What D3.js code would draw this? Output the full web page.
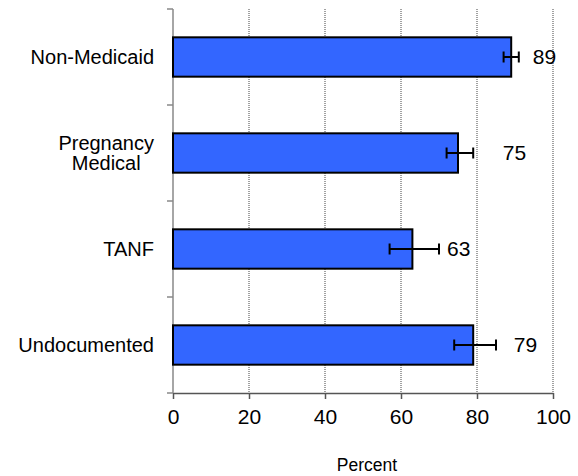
<!DOCTYPE html>
<html>
<head>
<meta charset="utf-8">
<script src="https://cdn.jsdelivr.net/npm/d3@7"></script>
<style>
  body { margin: 0; background: #fff; }
  svg { display: block; font-family: "Liberation Sans", Arial, sans-serif; }
</style>
</head>
<body>
<svg id="chart" width="578" height="476"></svg>
<script>
const CATEGORIES = [["Non-Medicaid"], ["Pregnancy", "Medical"], ["TANF"], ["Undocumented"]];
const VALUES = [89, 75, 63, 79];
const ERR_LOW = [87, 72, 57, 74];
const ERR_HIGH = [91, 79, 70, 85];
const LABEL_AT = [94.7, 86.8, 72.1, 89.7]; // where the value labels start, in percent
const X_TICKS = [0, 20, 40, 60, 80, 100];

const BAR_COLOR = "#3366ff";

const svg = d3.select("#chart");

const x = d3.scaleLinear().domain([0, 100]).range([173, 553]);
const y = d3.scaleBand().domain(d3.range(CATEGORIES.length)).range([9, 393]).padding(0);
const barH = y.bandwidth() * 0.41;

// gridlines
svg.append("g")
  .selectAll("line")
  .data(X_TICKS.slice(1))
  .enter()
  .append("line")
  .attr("x1", d => x(d)).attr("x2", d => x(d))
  .attr("y1", y.range()[0]).attr("y2", y.range()[1])
  .attr("stroke", "#444")
  .attr("stroke-width", 1)
  .attr("stroke-dasharray", "1,1");

// x axis
const xAxis = svg.append("g")
  .attr("transform", "translate(0," + y.range()[1] + ")")
  .call(d3.axisBottom(x).tickValues(X_TICKS).tickSize(6).tickSizeOuter(0).tickPadding(10));
xAxis.select(".domain").attr("stroke", "#555").attr("stroke-width", 1.5);
xAxis.selectAll(".tick line").attr("stroke", "#555").attr("stroke-width", 1.5);
xAxis.selectAll(".tick text")
  .attr("font-family", "Liberation Sans, Arial, sans-serif")
  .attr("font-size", "21px")
  .attr("fill", "#000");

// y axis (ticks at band boundaries)
const yg = svg.append("g");
yg.append("line")
  .attr("x1", x(0)).attr("x2", x(0))
  .attr("y1", y.range()[0]).attr("y2", y.range()[1])
  .attr("stroke", "#888").attr("stroke-width", 1.5);
const bounds = d3.range(CATEGORIES.length).map(i => y(i)).concat([y.range()[1]]);
yg.selectAll("line.tk")
  .data(bounds)
  .enter()
  .append("line")
  .attr("class", "tk")
  .attr("x1", x(0) - 6).attr("x2", x(0))
  .attr("y1", d => d).attr("y2", d => d)
  .attr("stroke", "#888").attr("stroke-width", 1.5);

// category labels
const cats = svg.append("g").selectAll("text")
  .data(CATEGORIES)
  .enter()
  .append("text")
  .attr("text-anchor", "middle")
  .attr("font-size", "20px")
  .attr("fill", "#000");
cats.each(function (lines, i) {
  const t = d3.select(this);
  const cy = y(i) + y.bandwidth() / 2;
  lines.forEach((s, j) => {
    t.append("tspan")
      .attr("x", 0)
      .attr("y", cy + (j - (lines.length - 1) / 2) * 20)
      .attr("dy", "0.35em")
      .text(s);
  });
});
// right-align each block on the same edge, centering the lines inside it
cats.each(function () {
  const bb = this.getBBox();
  const cx = 154 - bb.width / 2;
  d3.select(this).selectAll("tspan").attr("x", cx);
});

// bars
svg.append("g")
  .selectAll("rect")
  .data(VALUES)
  .enter()
  .append("rect")
  .attr("x", x(0))
  .attr("y", (d, i) => y(i) + (y.bandwidth() - barH) / 2)
  .attr("width", d => x(d) - x(0))
  .attr("height", barH)
  .attr("fill", BAR_COLOR)
  .attr("stroke", "#000")
  .attr("stroke-width", 2);

// error bars
const err = svg.append("g").attr("stroke", "#000").attr("stroke-width", 2);
VALUES.forEach((v, i) => {
  const cy = y(i) + y.bandwidth() / 2;
  err.append("line")
    .attr("x1", x(ERR_LOW[i])).attr("x2", x(ERR_HIGH[i]))
    .attr("y1", cy).attr("y2", cy);
  [ERR_LOW[i], ERR_HIGH[i]].forEach(e => {
    err.append("line")
      .attr("x1", x(e)).attr("x2", x(e))
      .attr("y1", cy - 5.5).attr("y2", cy + 5.5);
  });
});

// value labels
svg.append("g")
  .selectAll("text")
  .data(VALUES)
  .enter()
  .append("text")
  .attr("x", (d, i) => x(LABEL_AT[i]))
  .attr("y", (d, i) => y(i) + y.bandwidth() / 2)
  .attr("dy", "0.35em")
  .attr("font-size", "21px")
  .attr("fill", "#000")
  .text(d => d);

// axis title
svg.append("text")
  .attr("x", (x(0) + x(100)) / 2 + 4)
  .attr("y", 471)
  .attr("text-anchor", "middle")
  .attr("font-size", "17.5px")
  .attr("fill", "#000")
  .text("Percent");
</script>
</body>
</html>
